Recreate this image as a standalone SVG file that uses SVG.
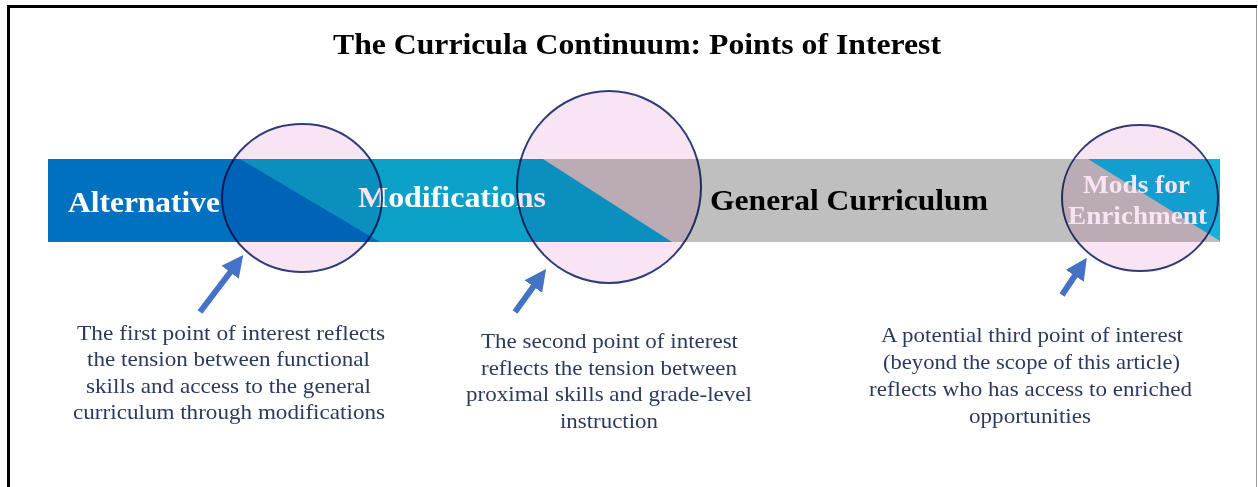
<svg xmlns="http://www.w3.org/2000/svg" width="1258" height="487" viewBox="0 0 1258 487">
  <style>
    .title { font-family: "Liberation Serif", "Times New Roman", serif; font-weight: bold; font-size: 29px; fill: #000; }
    .seg { font-family: "Liberation Serif", "Times New Roman", serif; font-weight: bold; font-size: 30px; }
    .seg-small { font-family: "Liberation Serif", "Times New Roman", serif; font-weight: bold; font-size: 25px; fill: #fff; }
    .note { font-family: "Liberation Serif", "Times New Roman", serif; font-size: 22px; fill: #2b3a5e; }
    .lens { fill: #f8e4f2; stroke: #2e3d78; stroke-width: 2; mix-blend-mode: multiply; }
    .pointer { stroke: #4472c4; stroke-width: 6; fill: none; marker-end: url(#head); }
  </style>
  <defs>
    <marker id="head" viewBox="0 0 10 10" refX="6" refY="5" markerWidth="3.6" markerHeight="3.6" orient="auto" markerUnits="strokeWidth">
      <path d="M0,0 L10,5 L0,10 Z" fill="#4472c4"/>
    </marker>
  </defs>

  <!-- page frame -->
  <rect x="0" y="0" width="1258" height="487" fill="#fff"/>
  <line x1="7" y1="6.5" x2="1257" y2="6.5" stroke="#000" stroke-width="3"/>
  <line x1="8.5" y1="5" x2="8.5" y2="487" stroke="#000" stroke-width="3"/>
  <line x1="1256.5" y1="8" x2="1256.5" y2="487" stroke="#9a9a9a" stroke-width="1"/>

  <text class="title" x="333" y="54" textLength="608" lengthAdjust="spacingAndGlyphs">The Curricula Continuum: Points of Interest</text>

  <!-- continuum bar -->
  <g id="bar">
    <polygon points="48,159 1220,159 1220,242 48,242" fill="#bfbfbf"/>
    <polygon points="48,159 543,159 672,242 48,242" fill="#0aa0c8"/>
    <polygon points="48,159 240,159 380,242 48,242" fill="#0070c0"/>
    <polygon points="1088,159 1220,159 1220,241" fill="#12b2da"/>
  </g>

  <g id="alternative">
    <text class="seg" x="68" y="212" fill="#fff" textLength="152" lengthAdjust="spacingAndGlyphs">Alternative</text>
  </g>
  <g id="modifications">
    <text class="seg" x="358" y="207" fill="#fff" textLength="188" lengthAdjust="spacingAndGlyphs">Modifications</text>
  </g>
  <g id="general-curriculum">
    <text class="seg" x="710" y="210" fill="#000" textLength="278" lengthAdjust="spacingAndGlyphs">General Curriculum</text>
  </g>
  <g id="mods-for-enrichment">
    <text class="seg-small" x="1083" y="193" textLength="107" lengthAdjust="spacingAndGlyphs">Mods for</text>
    <text class="seg-small" x="1068" y="224" textLength="139" lengthAdjust="spacingAndGlyphs">Enrichment</text>
  </g>

  <!-- points of interest -->
  <g id="point-1">
    <ellipse class="lens" cx="302" cy="198" rx="80" ry="74"/>
  </g>
  <g id="point-2">
    <ellipse class="lens" cx="609" cy="187" rx="92" ry="96"/>
  </g>
  <g id="point-3">
    <ellipse class="lens" cx="1140" cy="198" rx="78" ry="73"/>
  </g>

  <g id="connectors">
    <line class="pointer" x1="200" y1="312" x2="238" y2="262"/>
    <line class="pointer" x1="515" y1="312" x2="541" y2="276"/>
    <line class="pointer" x1="1062" y1="295" x2="1082" y2="265"/>
  </g>

  <g id="note-1">
    <text class="note" x="77" y="340" textLength="308" lengthAdjust="spacingAndGlyphs">The first point of interest reflects</text>
    <text class="note" x="87" y="366" textLength="283" lengthAdjust="spacingAndGlyphs">the tension between functional</text>
    <text class="note" x="86" y="393" textLength="285" lengthAdjust="spacingAndGlyphs">skills and access to the general</text>
    <text class="note" x="73" y="419" textLength="312" lengthAdjust="spacingAndGlyphs">curriculum through modifications</text>
  </g>
  <g id="note-2">
    <text class="note" x="481" y="348" textLength="257" lengthAdjust="spacingAndGlyphs">The second point of interest</text>
    <text class="note" x="481" y="375" textLength="256" lengthAdjust="spacingAndGlyphs">reflects the tension between</text>
    <text class="note" x="466" y="401" textLength="286" lengthAdjust="spacingAndGlyphs">proximal skills and grade-level</text>
    <text class="note" x="560" y="428" textLength="98" lengthAdjust="spacingAndGlyphs">instruction</text>
  </g>
  <g id="note-3">
    <text class="note" x="881" y="342" textLength="302" lengthAdjust="spacingAndGlyphs">A potential third point of interest</text>
    <text class="note" x="883" y="369" textLength="297" lengthAdjust="spacingAndGlyphs">(beyond the scope of this article)</text>
    <text class="note" x="869" y="396" textLength="323" lengthAdjust="spacingAndGlyphs">reflects who has access to enriched</text>
    <text class="note" x="969" y="423" textLength="122" lengthAdjust="spacingAndGlyphs">opportunities</text>
  </g>
</svg>
